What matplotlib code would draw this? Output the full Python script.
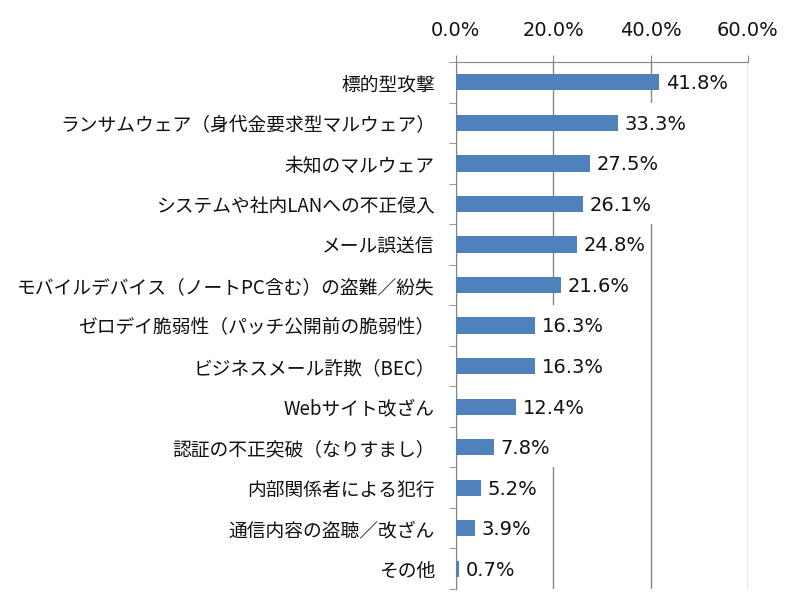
import matplotlib
matplotlib.use("Agg")
import matplotlib.pyplot as plt
from matplotlib.patches import Rectangle
from matplotlib.ticker import FixedLocator, NullFormatter

plt.rcParams['font.family'] = ['Noto Sans CJK JP', 'DejaVu Sans']

categories = [
    "標的型攻撃",
    "ランサムウェア（身代金要求型マルウェア）",
    "未知のマルウェア",
    "システムや社内LANへの不正侵入",
    "メール誤送信",
    "モバイルデバイス（ノートPC含む）の盗難／紛失",
    "ゼロデイ脆弱性（パッチ公開前の脆弱性）",
    "ビジネスメール詐欺（BEC）",
    "Webサイト改ざん",
    "認証の不正突破（なりすまし）",
    "内部関係者による犯行",
    "通信内容の盗聴／改ざん",
    "その他",
]
values = [41.8, 33.3, 27.5, 26.1, 24.8, 21.6, 16.3, 16.3, 12.4, 7.8, 5.2, 3.9, 0.7]
xticks = [0, 20, 40, 60]
xtick_labels = ["0.0%", "20.0%", "40.0%", "60.0%"]

TEXT = "#111111"
GRID = "#868686"

fig = plt.figure(figsize=(8, 6.09), dpi=100)
ax = fig.add_axes([0.5696, 0.0328, 0.9350 - 0.5696, 0.898 - 0.0328])

n = len(categories)
ypos = list(range(n))
ax.barh(ypos, values, height=0.4, color="#4F81BD", zorder=3)
ax.set_xlim(0, 60)
ax.set_ylim(n - 0.5, -0.5)

ax.xaxis.tick_top()
ax.set_xticks(xticks)
ax.set_xticklabels(xtick_labels, fontsize=14, color=TEXT, family=['DejaVu Sans'])
ax.tick_params(axis='x', length=5, color=GRID, pad=11)
ax.grid(axis='x', color=GRID, linewidth=1, zorder=1)

ax.set_yticks(ypos)
ax.set_yticklabels(categories, fontsize=13.5, color=TEXT)
ax.tick_params(axis='y', which='major', length=0, pad=15)
ax.yaxis.set_minor_locator(FixedLocator([i - 0.5 for i in range(n + 1)]))
ax.yaxis.set_minor_formatter(NullFormatter())
ax.tick_params(axis='y', which='minor', length=5, color=GRID)

for s in ['right', 'bottom']:
    ax.spines[s].set_visible(False)
for s in ['top', 'left']:
    ax.spines[s].set_color(GRID)

labels = []
for y, v in zip(ypos, values):
    t = ax.annotate(f"{v:.1f}%", xy=(v, y), xytext=(5, -1), textcoords="offset points",
                    va="center", ha="left", fontsize=14, color=TEXT, zorder=4,
                    family=['DejaVu Sans'])
    labels.append((t, y))

# white label backgrounds spanning the full row height (as in the source chart)
fig.canvas.draw()
renderer = fig.canvas.get_renderer()
inv = ax.transData.inverted()
for t, y in labels:
    bb = t.get_window_extent(renderer)
    x0 = inv.transform((bb.x0 - 4, bb.y0))[0]
    x1 = inv.transform((bb.x1 + 5, bb.y0))[0]
    ax.add_patch(Rectangle((x0, y - 0.5), x1 - x0, 1.0, facecolor="white",
                           edgecolor="none", zorder=2))

fig.savefig("out.png", dpi=100)
